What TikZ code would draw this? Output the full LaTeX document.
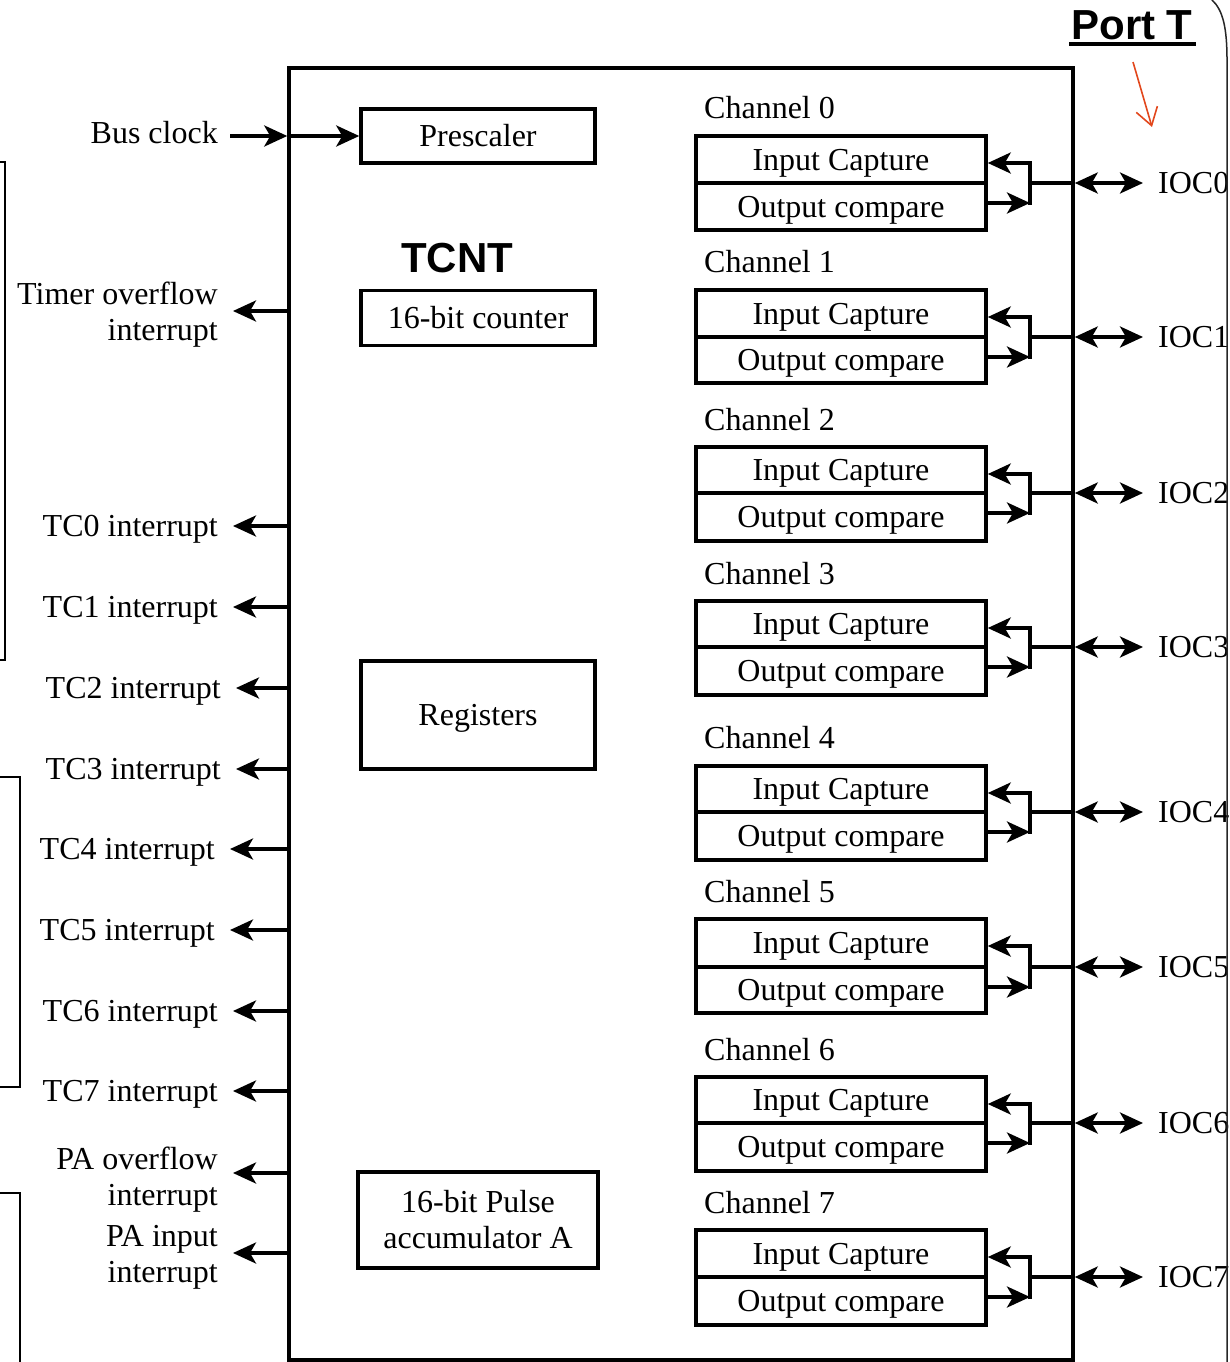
\documentclass[tikz,border=0pt]{standalone}
\usepackage{fontspec}
\setmainfont{Liberation Serif}
\newfontfamily\headfont{Liberation Sans}
\usetikzlibrary{arrows.meta}
\definecolor{markred}{HTML}{E2471C}
\begin{document}
\begin{tikzpicture}[x=1pt,y=-1pt,
  txt/.style={font=\fontsize{32}{36}\selectfont, inner sep=0pt},
  low/.style={text height=23pt, text depth=2pt},
  blk/.style={draw, line width=3.5pt, font=\fontsize{32}{36}\selectfont, inner sep=0pt, align=center},
  heavy/.style={line width=3.5pt},
  tip/.style={Stealth[length=23pt,width=21pt,inset=6pt]},
  arr/.style={line width=3.5pt, -{Stealth[length=23pt,width=21pt,inset=6pt]}},
  dblarr/.style={line width=3.5pt, {Stealth[length=23pt,width=21pt,inset=6pt]}-{Stealth[length=23pt,width=21pt,inset=6pt]}},
  brk/.style={line width=2pt},
  intlbl/.style={txt, anchor=east, inner xsep=15pt, align=right}
]
\useasboundingbox (0,0) rectangle (1230,1362);

% timer module outline
\node[draw, line width=3.5pt, minimum width=784pt, minimum height=1292pt, inner sep=0pt] (mainbox) at (681,714) {};

% internal blocks
\node[blk, minimum width=234pt, minimum height=54pt] (presc) at (478,136) {Prescaler};
\node[font=\headfont\bfseries\fontsize{42}{46}\selectfont, inner sep=0pt] (tcnt) at (457,258) {TCNT};
\node[blk, minimum width=234pt, minimum height=55pt] (cnt) at (478,318) {16-bit counter};
\node[blk, low, minimum width=234pt, minimum height=108pt] (regs) at (478,715) {Registers};
\node[blk, minimum width=240pt, minimum height=96pt] (pacc) at (478,1220) {16-bit Pulse\\accumulator A};

% bus clock input
\node[txt, anchor=east, inner xsep=12pt] (bus) at (230,133) {Bus clock};
\draw[arr] (bus.east |- presc.west) -- (presc.west -| mainbox.west);
\draw[arr] (presc.west -| mainbox.west) -- (presc.west);

% interrupt outputs: name / arrow y / text y / right edge / text
\foreach \nm/\yy/\ty/\xr/\tx in {tof/311/315/233/{Timer overflow\\interrupt},
    paov/1173/1180/233/{PA overflow\\interrupt}, pain/1253/1257/233/{PA input\\interrupt}} {
  \node[intlbl] (\nm) at (\xr,\ty) {\tx};
  \coordinate (p\nm) at (\xr,\yy);
  \draw[arr] (p\nm -| mainbox.west) -- (\nm.east |- p\nm);
}
\foreach \nm/\yy/\xr/\tx in {tc0/526/233/{TC0 interrupt}, tc1/607/233/{TC1 interrupt},
    tc2/688/236/{TC2 interrupt}, tc3/769/236/{TC3 interrupt},
    tc4/849/230/{TC4 interrupt}, tc5/930/230/{TC5 interrupt},
    tc6/1011/233/{TC6 interrupt}, tc7/1091/233/{TC7 interrupt}} {
  \node[intlbl, low] (\nm) at (\xr,\yy) {\tx};
  \draw[arr] (\nm.east -| mainbox.west) -- (\nm.east);
}

% capture/compare channels
\foreach \k/\cl/\ct/\cm/\cb in {0/108/136/183/230, 1/262/290/337/383,
    2/420/447/493/541, 3/574/601/647/695, 4/738/766/812/860,
    5/892/919/967/1013, 6/1050/1077/1123/1171, 7/1203/1230/1277/1325} {
  \node[txt, anchor=west] (ch\k) at (704,\cl) {Channel \k};
  \node[blk, low, minimum width=290pt, minimum height={\cm-\ct}] (ic\k) at (841,{(\ct+\cm)/2}) {Input Capture};
  \node[blk, low, minimum width=290pt, minimum height={\cb-\cm}] (oc\k) at (841,{(\cm+\cb)/2}) {Output compare};
  \coordinate (ja\k) at (1030,\ct+27);
  \coordinate (jb\k) at (1030,\cm+20);
  \coordinate (jm\k) at (1030,\cm);
  \draw[arr] (ja\k) -- (ja\k -| ic\k.east);
  \draw[arr] (jb\k -| oc\k.east) -- (jb\k);
  \draw[heavy] ([yshift=1.75pt]ja\k) -- ([yshift=-1.75pt]jb\k);
  \draw[heavy] (jm\k) -- (jm\k -| mainbox.east);
  \node[txt, anchor=west, inner xsep=15pt] (ioc\k) at (1143,\cm) {IOC\k};
  \draw[dblarr] (jm\k -| mainbox.east) -- (ioc\k.west);
}

% port label
\node[font=\headfont\bfseries\fontsize{42}{46}\selectfont, inner sep=0pt] (port) at (1132,25) {Port T};
\draw[heavy] (1069,44) -- (1196,44);
\coordinate (pa) at (1133,62);
\coordinate (pb) at (1152,127);
\draw[markred, line width=1.6pt, -{Straight Barb[length=17pt,width=22pt]}] (pa) -- (pb);

% grouping brackets
\draw[brk] (0,162) -- (5,162) -- (5,660) -- (0,660);
\draw[brk] (0,777) -- (20,777) -- (20,1087) -- (0,1087);
\draw[brk] (0,1193) -- (20,1193) -- (20,1365);
\draw[line width=1.5pt, black!85] (1212,0) .. controls (1223,10) and (1227,28) .. (1227,60) -- (1227,1365);
\end{tikzpicture}
\end{document}
